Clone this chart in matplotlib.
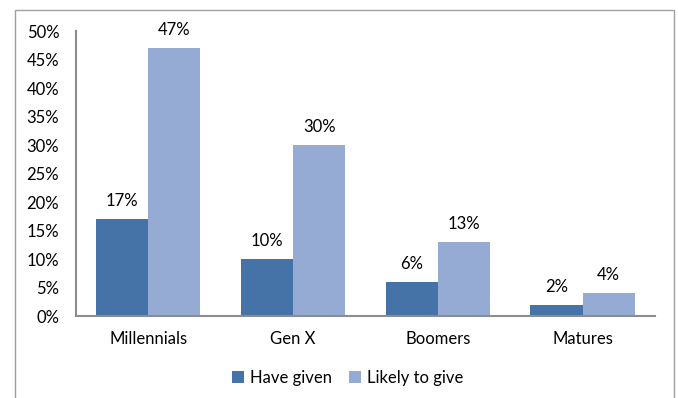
import numpy as np
import matplotlib
matplotlib.use("Agg")
import matplotlib.pyplot as plt
from matplotlib.patches import Rectangle
from matplotlib.ticker import PercentFormatter

generations = ["Millennials", "Gen X", "Boomers", "Matures"]
have_given = [17, 10, 6, 2]
likely_to_give = [47, 30, 13, 4]
series_names = ["Have given", "Likely to give"]

dark_blue = "#4572A7"
light_blue = "#95ABD3"

plt.rcParams['font.family'] = ['Lato', 'DejaVu Sans']
plt.rcParams['font.size'] = 12

fig = plt.figure(figsize=(6.78, 3.98), dpi=100)
ax = fig.add_axes([0.112, 0.206, 0.854, 0.716])

# outer chart frame
fig.patches.append(Rectangle((15 / 678, -0.05), (674 - 15) / 678, 1.05 - 10 / 398,
                             transform=fig.transFigure, fill=False,
                             edgecolor="#A0A0A0", linewidth=1.0))

x = np.arange(len(generations))
w = 0.36
b1 = ax.bar(x - w / 2, have_given, w, color=dark_blue, label=series_names[0])
b2 = ax.bar(x + w / 2, likely_to_give, w, color=light_blue, label=series_names[1])

for bars, vals in ((b1, have_given), (b2, likely_to_give)):
    for rect, v in zip(bars, vals):
        ax.annotate(f"{v}%", (rect.get_x() + rect.get_width() / 2, v),
                    xytext=(0, 7), textcoords="offset points",
                    ha="center", va="bottom")

ax.set_xlim(-0.5, len(generations) - 0.5)
ax.set_ylim(0, 50)
ax.set_yticks(np.arange(0, 51, 5))
ax.yaxis.set_major_formatter(PercentFormatter(decimals=0))
ax.set_xticks(x)
ax.set_xticklabels(generations)
ax.tick_params(length=0)
ax.tick_params(axis='y', pad=12)
ax.tick_params(axis='x', pad=11)

for s in ("top", "right"):
    ax.spines[s].set_visible(False)
for s in ("left", "bottom"):
    ax.spines[s].set_color("#8C8C8C")
    ax.spines[s].set_linewidth(1.5)

fig.legend(loc="center", bbox_to_anchor=(0.513, 0.05), ncol=2, frameon=False,
           handlelength=0.7, handleheight=0.7, handletextpad=0.4, columnspacing=1.0)

fig.savefig("out.png", dpi=100)
